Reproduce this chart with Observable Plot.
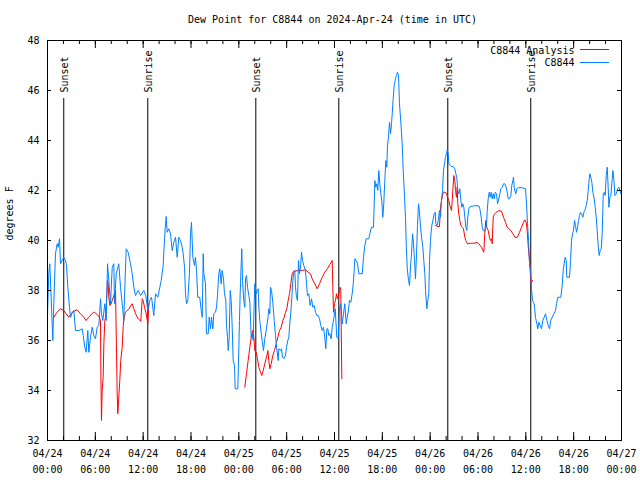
<!DOCTYPE html>
<html>
<head>
<meta charset="utf-8">
<script src="https://cdn.jsdelivr.net/npm/d3@7"></script>
<script src="https://cdn.jsdelivr.net/npm/@observablehq/plot@0.6"></script>
<style>
  html, body { margin: 0; padding: 0; background: #fff; }
  #chart svg { display: block; }
</style>
</head>
<body>
<div id="chart"></div>
<script>
// ---- data (hours after 2024-04-24 00:00 UTC, dew point in °F) ----
const startDate = "2024-04-24T00:00:00Z";
const endDate = "2024-04-27T00:00:00Z";
const titleText = "Dew Point for C8844 on 2024-Apr-24 (time in UTC)";
const yLabel = "degrees F";
const seriesNames = ["C8844 Analysis", "C8844"];
const seriesColors = ["#ff0000", "#0080ff"];
const yTickValues = [32, 34, 36, 38, 40, 42, 44, 46, 48];

const sunsetHours = [2.04, 26.13, 50.21];
const sunriseHours = [12.58, 36.54, 60.62];

const stationHours = [0,0.17,0.29,0.67,0.79,1.0,1.21,1.34,1.51,1.63,2.04,2.26,2.38,2.55,2.76,2.89,3.10,3.30,3.51,3.93,4.35,4.48,4.68,4.85,5.06,5.18,5.39,5.61,5.81,6.02,6.23,6.44,6.65,6.77,6.94,7.19,7.36,7.53,7.69,7.90,8.12,8.32,8.40,8.62,8.94,9.16,9.37,9.57,9.66,9.87,10.12,10.41,10.62,10.83,11.04,11.38,11.67,12.08,12.33,12.58,12.83,13.05,13.33,13.55,13.84,14.09,14.26,14.51,14.59,14.76,14.89,15.01,15.22,15.43,15.64,15.84,16.06,16.27,16.47,16.68,16.90,17.02,17.19,17.31,17.44,17.60,17.81,17.94,18.06,18.23,18.44,18.56,18.69,18.85,19.10,19.28,19.41,19.53,19.61,19.82,19.94,20.16,20.28,20.45,20.57,20.74,20.86,21.07,21.20,21.32,21.49,21.61,21.79,21.91,22.08,22.20,22.37,22.45,22.58,22.67,22.79,22.92,23.04,23.17,23.29,23.46,23.54,23.87,23.96,24.08,24.17,24.21,24.30,24.37,24.46,24.62,24.75,24.84,24.96,25.09,25.25,25.38,25.55,25.68,25.80,25.88,26.00,26.18,26.30,26.43,26.51,26.63,26.81,26.93,27.09,27.26,27.43,27.64,27.76,27.89,27.97,28.10,28.26,28.44,28.60,28.76,28.94,29.01,29.23,29.35,29.48,29.64,29.85,29.98,30.14,30.27,30.39,30.52,30.64,30.77,30.90,31.02,31.11,31.23,31.36,31.48,31.61,31.74,31.86,31.99,32.15,32.36,32.49,32.61,32.78,32.95,33.12,33.28,33.45,33.62,33.78,33.96,34.12,34.28,34.46,34.62,34.78,34.91,35.04,35.16,35.29,35.41,35.59,35.71,35.91,36.09,36.29,36.46,36.63,36.79,36.97,37.13,37.29,37.47,37.59,37.72,37.88,38.05,38.22,38.35,38.47,38.55,38.72,38.89,39.05,39.48,39.64,39.80,39.98,40.30,40.48,40.64,40.89,40.98,41.06,41.18,41.31,41.43,41.56,41.68,41.81,41.93,42.06,42.18,42.31,42.44,42.56,42.65,42.77,42.90,43.03,43.15,43.24,43.36,43.49,43.65,43.78,43.90,44.03,44.15,44.32,44.49,44.62,44.78,44.91,45.0,45.12,45.28,45.41,45.53,45.66,45.79,45.91,46.04,46.16,46.29,46.41,46.54,46.66,46.79,46.92,47.08,47.20,47.33,47.42,47.58,47.70,47.83,47.92,48.04,48.17,48.33,48.51,48.63,48.71,48.88,49.01,49.17,49.30,49.42,49.55,49.67,49.80,49.92,50.05,50.14,50.26,50.34,50.51,50.68,50.89,51.09,51.22,51.34,51.47,51.59,51.72,51.85,51.97,52.10,52.22,52.35,52.47,52.60,52.72,52.85,53.02,53.60,54.10,54.23,54.40,54.53,54.65,54.82,54.94,55.07,55.16,55.28,55.41,55.53,55.66,55.78,55.91,56.03,56.16,56.33,56.45,56.57,56.74,56.86,57.04,57.20,57.36,57.54,57.66,57.79,57.95,58.12,58.24,58.37,58.46,58.54,58.62,58.74,58.87,59.04,59.55,59.96,60.09,60.21,60.34,60.46,60.63,60.71,60.84,61.05,61.21,61.38,61.50,61.63,61.80,61.97,62.13,62.30,62.47,62.63,62.81,62.97,63.13,63.31,63.51,63.72,63.85,64.01,64.39,64.56,64.69,64.81,64.94,65.06,65.14,65.48,65.61,65.73,65.86,65.98,66.11,66.23,66.36,66.48,66.61,66.73,66.86,66.98,67.15,67.28,67.40,67.58,67.70,67.83,67.95,68.03,68.15,68.28,68.41,68.58,68.70,68.83,68.95,69.08,69.20,69.33,69.46,69.58,69.71,69.83,69.96,70.08,70.21,70.33,70.42,70.54,70.67,70.80,70.92,71.05,71.17,71.35,71.51,71.68,71.80,71.93,72.0];
const stationValues = [37.0,38.73,39.07,36.0,37.47,39.47,39.87,39.73,40.07,39.07,39.33,39.2,39.0,38.13,37.33,36.93,37.13,37.2,36.4,36.4,36.47,36.2,35.73,35.53,36.4,35.53,36.13,36.53,36.2,36.07,36.53,36.6,37.67,37.07,36.8,37.47,36.8,39.07,38.4,37.47,38.93,39.07,37.47,38.67,39.07,38.13,37.47,36.8,37.73,39.67,39.53,39.07,38.67,38.13,37.8,38.0,37.8,38.0,37.8,37.2,37.6,37.73,37.0,37.87,37.73,38.13,38.4,39.0,39.53,40.47,40.96,40.33,40.47,40.27,39.6,39.93,40.13,39.33,40.13,40.0,39.73,39.47,38.93,37.87,37.47,37.6,38.73,40.27,40.73,39.33,39.0,39.33,38.8,37.73,37.73,37.2,36.93,39.47,38.67,38.27,36.27,36.27,36.93,36.47,36.93,36.47,37.07,37.13,37.33,37.8,38.67,38.87,38.27,38.8,38.47,37.87,37.6,36.6,36.13,35.6,36.13,38.0,37.6,36.53,35.2,35.0,34.07,34.07,35.13,36.8,37.93,38.27,39.07,39.67,38.4,37.6,37.33,38.47,38.6,38.13,37.8,37.53,36.13,36.27,36.0,36.93,38.27,37.87,38.0,38.07,37.33,36.8,36.27,36.0,35.6,36.07,36.4,36.87,37.27,37.07,38.13,38.0,37.53,36.8,36.2,35.67,35.2,35.67,35.6,35.67,35.33,35.27,35.4,35.73,36.0,36.13,36.67,37.13,37.67,38.4,38.73,38.8,38.13,37.73,37.6,39.2,38.67,38.93,39.53,39.2,39.0,38.8,38.27,37.8,37.87,37.4,37.67,37.33,37.4,37.13,37.0,37.0,36.87,36.6,36.4,36.53,36.13,35.67,36.47,36.47,36.2,36.27,36.07,36.53,36.87,37.27,36.13,36.07,37.33,37.47,36.67,37.07,37.47,36.67,36.93,37.13,37.6,37.53,37.87,38.27,38.8,39.27,39.2,39.07,38.67,38.67,39.33,39.8,40.07,40.07,40.33,40.53,40.53,41.47,42.4,42.13,42.27,42.0,42.8,42.27,41.87,41.6,40.93,41.47,42.4,43.2,42.93,43.8,44.13,44.73,44.27,44.67,45.07,45.67,46.2,46.47,46.6,46.73,46.6,45.47,44.73,43.87,42.8,41.8,40.87,39.8,38.93,38.4,38.2,38.93,39.47,40.27,39.87,39.2,38.47,39.47,40.6,41.47,41.13,40.53,40.13,39.73,39.2,38.67,38.0,37.27,37.6,37.87,39.2,40.0,40.53,40.8,41.07,41.13,40.67,40.6,40.8,41.2,40.93,41.6,42.0,42.8,43.07,43.33,43.47,43.63,43.47,43.07,43.0,42.96,42.96,42.87,42.67,42.53,42.0,41.87,42.07,41.6,41.33,41.47,41.33,40.93,40.53,40.4,40.93,41.27,41.36,41.39,41.39,41.27,40.93,40.53,40.4,40.37,40.47,40.6,41.2,41.67,41.93,41.73,41.93,41.67,41.87,41.67,41.93,41.87,41.47,41.6,41.87,42.07,42.13,42.27,42.27,42.13,41.93,41.67,41.67,41.8,42.2,42.4,42.53,42.13,42.0,41.87,42.07,42.11,42.11,42.07,41.47,40.67,40.0,39.07,38.67,38.07,37.6,37.47,36.93,36.67,36.47,36.73,36.6,36.47,36.8,36.93,37.07,36.8,36.6,36.47,36.8,36.93,37.07,37.2,37.47,37.73,37.73,38.2,38.8,39.07,39.33,39.2,38.53,38.53,39.2,40.0,40.27,40.4,40.8,40.6,40.33,40.53,40.8,41.0,41.13,41.07,40.93,41.13,41.2,41.4,41.6,42.0,42.47,42.67,42.53,42.33,41.93,41.67,41.33,40.93,40.4,39.8,39.4,39.6,39.67,40.27,41.87,41.93,41.8,42.6,42.93,42.13,41.33,41.73,41.8,42.33,42.8,42.4,41.8,41.87,42.07,42.13,42.0,41.87,41.93];

// analysis series; NaN marks a gap in the record
const analysisHours = [0.79,1.21,1.63,2.04,2.34,2.67,3.01,3.30,3.72,4.14,4.55,4.85,5.18,5.61,5.90,6.23,6.52,6.65,6.69,6.77,6.86,6.98,7.07,7.19,7.28,7.40,7.53,7.61,7.69,7.82,7.99,8.12,8.32,8.53,8.66,8.74,8.82,8.94,9.07,9.19,9.37,9.50,9.62,9.78,10.20,10.62,10.83,11.04,11.38,11.70,11.88,12.0,12.17,12.38,12.58,12.71,18.0,24.75,24.96,25.17,25.38,25.59,25.75,25.88,26.0,26.18,26.34,26.51,26.72,26.88,27.06,27.26,27.47,27.64,27.76,27.89,28.06,28.26,28.47,28.69,28.89,29.10,29.31,29.52,29.69,29.85,30.02,30.19,30.36,30.52,30.69,30.86,31.52,31.95,32.36,32.70,32.99,33.20,33.53,33.83,34.12,34.46,34.78,35.12,35.41,35.71,35.79,35.88,36.0,36.13,36.25,36.38,36.51,36.63,36.71,36.79,36.84,36.92,42.0,48.67,48.92,49.17,49.30,49.42,49.64,49.84,50.05,50.18,50.34,50.47,50.59,50.68,50.84,50.97,51.09,51.18,51.30,51.39,51.47,51.59,51.72,51.85,52.02,52.18,52.35,52.47,52.68,53.06,53.48,53.90,54.10,54.44,54.73,54.85,54.98,55.10,55.28,55.44,55.57,55.70,55.78,55.91,56.03,56.28,56.61,56.95,57.20,57.45,57.66,57.87,58.12,58.37,58.71,58.96,59.21,59.46,59.71,59.87,60.05,60.17,60.25,60.38,60.51,60.63,60.72,60.84];
const analysisValues = [36.93,37.13,37.27,37.2,37.07,36.93,37.07,37.17,37.23,37.07,36.93,36.8,36.93,37.09,37.13,37.04,36.93,36.8,34.8,32.8,34.0,34.53,35.87,36.8,36.93,37.6,38.4,38.27,37.73,37.4,37.47,37.6,37.8,38.0,35.47,33.87,33.07,33.73,34.4,35.2,35.73,36.6,36.93,37.13,37.27,37.47,37.27,37.07,36.87,36.77,37.67,37.6,37.33,37.07,36.67,37.47,NaN,34.13,34.67,35.2,35.73,36.2,36.4,36.13,35.6,35.53,35.27,34.93,34.73,34.6,34.8,35.07,35.33,35.6,35.2,34.87,35.07,35.4,35.6,35.87,36.13,36.4,36.53,36.8,36.93,37.13,37.27,37.6,37.87,38.27,38.67,38.77,38.8,38.8,38.83,38.73,38.67,38.47,38.27,38.07,38.27,38.53,38.73,38.87,39.04,39.2,38.13,37.13,37.47,37.6,37.87,37.67,37.8,38.0,38.13,38.0,36.53,34.47,NaN,40.6,40.56,40.56,41.33,41.6,41.93,41.93,41.89,41.73,41.6,41.4,41.27,41.2,42.0,42.6,42.4,42.0,41.73,42.13,41.47,41.07,40.8,40.6,40.53,40.47,40.13,40.0,39.87,39.89,39.89,39.92,39.87,39.73,39.53,40.27,40.8,40.53,40.4,40.13,40.0,40.07,39.87,40.93,41.04,41.13,41.2,41.17,40.93,40.73,40.53,40.47,40.4,40.27,40.11,40.13,40.33,40.53,40.73,40.83,40.73,40.4,40.0,39.47,39.07,38.3,38.33,38.4];

// ---- build tables ----
const t0 = new Date(startDate);
const t1 = new Date(endDate);
const atHour = h => new Date(t0.getTime() + h * 3600e3);
const station = stationHours.map((h, i) => ({time: atHour(h), value: stationValues[i]}));
const analysis = analysisHours.map((h, i) => ({time: atHour(h), value: analysisValues[i]}));
const sunEvents = [
  ...sunsetHours.map(h => ({time: atHour(h), label: "Sunset"})),
  ...sunriseHours.map(h => ({time: atHour(h), label: "Sunrise"}))
];
const majorTicks = d3.utcHour.every(6).range(t0, new Date(t1.getTime() + 1));
const minorTicks = d3.utcHour.every(2).range(t0, new Date(t1.getTime() + 1));
const fmtDay = d3.utcFormat("%m/%d");
const fmtTime = d3.utcFormat("%H:%M");

const W = 640, H = 480, mL = 47, mR = 19, mT = 40, mB = 40;
const frameW = W - mL - mR, frameH = H - mT - mB;
const majorLen = 8, minorLen = 4, yTickLen = 4;

const chart = Plot.plot({
  width: W,
  height: H,
  marginLeft: mL,
  marginRight: mR,
  marginTop: mT,
  marginBottom: mB,
  style: {fontFamily: "'DejaVu Sans Mono', monospace", fontSize: "10px", background: "#fff", color: "#000"},
  x: {type: "utc", domain: [t0, t1], axis: null},
  y: {domain: [32, 48], axis: null},
  marks: [
    // sunrise / sunset markers
    Plot.ruleX(sunEvents, {x: "time", insetTop: 58, stroke: "#000", strokeWidth: 1}),
    Plot.text(sunEvents, {x: "time", text: "label", frameAnchor: "top", dy: 52, dx: 1, rotate: -90, textAnchor: "start", lineAnchor: "middle", fill: "#000"}),
    // series
    Plot.line(analysis, {x: "time", y: "value", stroke: seriesColors[0], strokeWidth: 1}),
    Plot.line(station, {x: "time", y: "value", stroke: seriesColors[1], strokeWidth: 1}),
    // ticks (inward, mirrored)
    Plot.tickX(minorTicks, {x: d => d, insetTop: frameH - minorLen, stroke: "#000"}),
    Plot.tickX(minorTicks, {x: d => d, insetBottom: frameH - minorLen, stroke: "#000"}),
    Plot.tickX(majorTicks, {x: d => d, insetTop: frameH - majorLen, stroke: "#000"}),
    Plot.tickX(majorTicks, {x: d => d, insetBottom: frameH - majorLen, stroke: "#000"}),
    Plot.tickY(yTickValues, {y: d => d, insetRight: frameW - yTickLen, stroke: "#000"}),
    Plot.tickY(yTickValues, {y: d => d, insetLeft: frameW - yTickLen, stroke: "#000"}),
    Plot.frame({stroke: "#000"}),
    // tick labels
    Plot.text(majorTicks, {x: d => d, text: d => fmtDay(d), frameAnchor: "bottom", dy: 13, lineAnchor: "middle", fill: "#000"}),
    Plot.text(majorTicks, {x: d => d, text: d => fmtTime(d), frameAnchor: "bottom", dy: 29, lineAnchor: "middle", fill: "#000"}),
    Plot.text(yTickValues, {y: d => d, text: d => String(d), frameAnchor: "left", textAnchor: "end", dx: -8, lineAnchor: "middle", fill: "#000"}),
    // axis label and title
    Plot.text([yLabel], {frameAnchor: "left", rotate: -90, dx: -38, lineAnchor: "middle", fill: "#000"}),
    Plot.text([titleText], {frameAnchor: "top", dy: -21, dx: -2, lineAnchor: "middle", fill: "#000"}),
    // legend labels
    Plot.text([seriesNames[0]], {frameAnchor: "top-right", textAnchor: "end", dx: -47, dy: 10, lineAnchor: "middle", fill: "#000"}),
    Plot.text([seriesNames[1]], {frameAnchor: "top-right", textAnchor: "end", dx: -47, dy: 22, lineAnchor: "middle", fill: "#000"})
  ]
});

// legend swatches, placed relative to the frame
const svg = d3.select(chart);
const xr = chart.scale("x").range;
const right = Math.max(...xr);
[10, 23].forEach((dy, i) => {
  svg.append("line")
    .attr("x1", right - 41).attr("x2", right - 12)
    .attr("y1", mT + dy - 0.5).attr("y2", mT + dy - 0.5)
    .attr("stroke", seriesColors[i]).attr("stroke-width", 1);
});

document.getElementById("chart").appendChild(chart);
</script>
</body>
</html>
